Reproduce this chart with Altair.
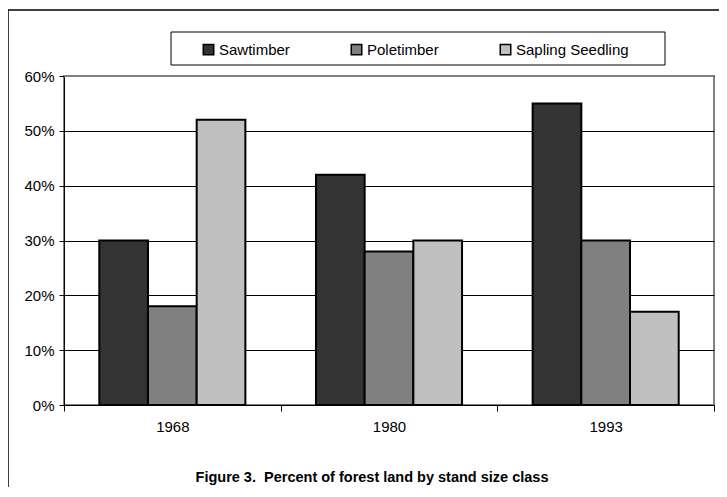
import altair as alt
import pandas as pd

years = ["1968", "1980", "1993"]
classes = ["Sawtimber", "Poletimber", "Sapling Seedling"]
sawtimber = [30, 42, 55]
poletimber = [18, 28, 30]
sapling = [52, 30, 17]
colors = ["#333333", "#808080", "#c0c0c0"]
y_ticks = [0, 10, 20, 30, 40, 50, 60]
title_text = "Figure 3.\u00a0 Percent of forest land by stand size class"

rows = []
for cls, vals in zip(classes, [sawtimber, poletimber, sapling]):
    for yr, v in zip(years, vals):
        rows.append({"year": yr, "cls": cls, "pct": v / 100})
df = pd.DataFrame(rows)

FONT = "Liberation Sans"
W, H = 650, 329

one = pd.DataFrame({"t": [title_text]})

frame = alt.Chart(one).mark_rect(fillOpacity=0, stroke="black", strokeWidth=1.5).encode(
    x=alt.value(-56), x2=alt.value(1200), y=alt.value(-66), y2=alt.value(1200)
)

legend_box = alt.Chart(one).mark_rect(fill="white", stroke="black", strokeWidth=1).encode(
    x=alt.value(107), x2=alt.value(601), y=alt.value(-44), y2=alt.value(-11)
)

bars = alt.Chart(df).mark_bar(stroke="black", strokeWidth=2).encode(
    x=alt.X("year:N", sort=years, title=None,
            scale=alt.Scale(paddingInner=0, paddingOuter=0),
            axis=alt.Axis(labelAngle=0, tickBand="extent", grid=False,
                          domainColor="black", tickColor="black", tickSize=6,
                          labelPadding=8, labelFont=FONT, labelFontSize=15,
                          labelColor="black")),
    xOffset=alt.XOffset("cls:N", sort=classes,
                        scale=alt.Scale(paddingInner=0, paddingOuter=0.725)),
    y=alt.Y("pct:Q", title=None,
            scale=alt.Scale(domain=[0, 0.6], nice=False),
            axis=alt.Axis(values=[t / 100 for t in y_ticks], format=".0%",
                          grid=True, gridColor="black", gridWidth=1,
                          domainColor="black", tickColor="black", tickSize=5,
                          labelPadding=5, labelFont=FONT, labelFontSize=15,
                          labelColor="black")),
    color=alt.Color("cls:N", sort=classes,
                    scale=alt.Scale(domain=classes, range=colors),
                    legend=alt.Legend(orient="none", legendX=137, legendY=-34,
                                      direction="horizontal", title=None,
                                      symbolType="square", symbolSize=110,
                                      symbolStrokeColor="black", symbolStrokeWidth=1.5,
                                      labelFont=FONT, labelFontSize=15, labelColor="black",
                                      columnPadding=58, labelOffset=3, padding=0)),
)

top_border = alt.Chart(one).mark_rule(color="#808080", strokeWidth=2).encode(
    x=alt.value(0), x2=alt.value(W), y=alt.value(0)
)

title = alt.Chart(one).mark_text(font=FONT, fontSize=14.5, fontWeight="bold",
                                 color="black", baseline="middle", align="center").encode(
    text="t:N", x=alt.value(308), y=alt.value(402)
)

chart = alt.layer(frame, legend_box, bars, top_border, title).properties(
    width=W, height=H,
    padding={"left": 56, "top": 68, "right": 5, "bottom": 82},
    autosize=alt.AutoSizeParams(type="none"),
).configure_view(stroke="#808080", strokeWidth=2)

chart.save("out.html", embed_options={"renderer": "svg", "actions": False})
